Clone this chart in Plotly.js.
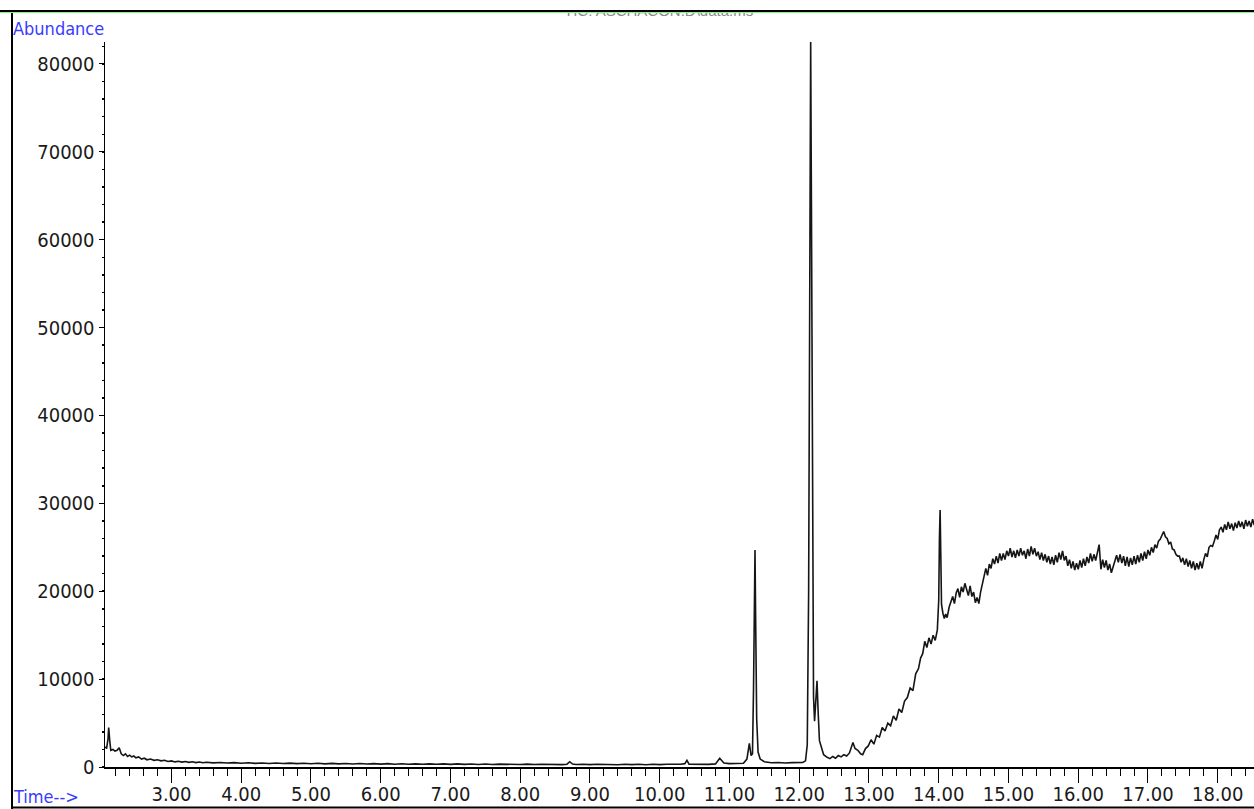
<!DOCTYPE html>
<html>
<head>
<meta charset="utf-8">
<script src="https://cdn.plot.ly/plotly-3.0.1.min.js"></script>
<style>
  html, body { margin: 0; padding: 0; background: #fff; }
  #chart { width: 1254px; height: 809px; }
</style>
</head>
<body>
<div id="chart"></div>
<script>
// Total ion chromatogram: retention time (min) vs abundance.

// Early baseline, 2.05 - 11.10 min
const timeEarly = [
  2.05, 2.07, 2.09, 2.10, 2.115, 2.13, 2.16, 2.19, 2.22, 2.25,
  2.28, 2.31, 2.34, 2.37, 2.40, 2.43, 2.46, 2.49, 2.53, 2.57,
  2.61, 2.65, 2.70, 2.75, 2.80, 2.85, 2.90, 2.95, 3.00, 3.05,
  3.10, 3.15, 3.20, 3.25, 3.30, 3.35, 3.40, 3.45, 3.50, 3.60,
  3.70, 3.80, 3.90, 4.00, 4.10, 4.20, 4.30, 4.40, 4.50, 4.60,
  4.70, 4.80, 4.90, 5.00, 5.10, 5.20, 5.30, 5.40, 5.50, 5.60,
  5.70, 5.80, 5.90, 6.00, 6.10, 6.20, 6.30, 6.40, 6.50, 6.60,
  6.70, 6.80, 6.90, 7.00, 7.10, 7.20, 7.30, 7.40, 7.50, 7.60,
  7.70, 7.80, 7.90, 8.00, 8.10, 8.20, 8.30, 8.40, 8.50, 8.60,
  8.67, 8.71, 8.75, 8.80, 8.90, 9.00, 9.10, 9.20, 9.30, 9.40,
  9.50, 9.60, 9.70, 9.80, 9.90, 10.00, 10.10, 10.20, 10.30, 10.36,
  10.39, 10.42, 10.50, 10.60, 10.70, 10.80, 10.86, 10.92, 11.00, 11.10
];
const abundEarly = [
  2300, 2100, 3200, 4500, 3000, 1900, 2000, 1800, 1900, 2200,
  1500, 1300, 1500, 1200, 1350, 1150, 1250, 1050, 1150, 900,
  1000, 820, 900, 760, 820, 700, 760, 620, 690, 580,
  650, 560, 620, 530, 590, 500, 560, 480, 540, 470,
  520, 450, 500, 430, 480, 410, 460, 400, 450, 390,
  440, 380, 430, 370, 420, 360, 410, 350, 400, 340,
  390, 340, 380, 330, 380, 320, 370, 320, 360, 310,
  360, 310, 350, 300, 350, 300, 340, 290, 340, 290,
  330, 290, 330, 280, 330, 280, 320, 280, 320, 270,
  320, 600, 340, 280, 320, 270, 310, 270, 310, 260,
  310, 270, 320, 260, 310, 270, 320, 280, 310, 380,
  750, 320, 290, 330, 300, 350, 1000, 450, 380, 400
];

// Resolved peaks at 11.37, 12.16 and 12.26 min
const timePeaks = [
  11.20, 11.25, 11.285, 11.31, 11.33, 11.345, 11.358, 11.366, 11.375, 11.39,
  11.41, 11.44, 11.50, 11.60, 11.70, 11.80, 11.90, 12.00, 12.05, 12.09,
  12.115, 12.135, 12.15, 12.164, 12.175, 12.19, 12.205, 12.22, 12.24, 12.255,
  12.27, 12.29, 12.32, 12.35
];
const abundPeaks = [
  420, 900, 2700, 1300, 1500, 9000, 21000, 24700, 17000, 5500,
  1700, 900, 600, 480, 520, 450, 500, 460, 520, 700,
  2500, 20000, 68000, 82500, 64000, 24000, 8000, 5200, 8600, 9800,
  6500, 3000, 2200, 1400
];

// Column bleed rise and the peak at 14.02 min
const timeRise = [
  12.40, 12.44, 12.48, 12.52, 12.56, 12.60, 12.64, 12.68, 12.72, 12.75,
  12.77, 12.80, 12.84, 12.88, 12.91, 12.95, 12.99, 13.03, 13.07, 13.11,
  13.15, 13.19, 13.23, 13.27, 13.31, 13.35, 13.39, 13.43, 13.47, 13.51,
  13.55, 13.59, 13.63, 13.67, 13.71, 13.74, 13.77, 13.80, 13.83, 13.86,
  13.89, 13.92, 13.95, 13.98, 14.00, 14.01, 14.02, 14.03, 14.04, 14.06,
  14.08, 14.10, 14.12
];
const abundRise = [
  1100, 950, 1200, 1000, 1300, 1150, 1400, 1250, 1600, 2200,
  2800, 2100, 1900, 1500, 1400, 2100, 2400, 3100, 2600, 3600,
  3400, 4500, 4100, 5000, 4700, 5800, 5300, 6600, 6200, 7500,
  7900, 9000, 8700, 10600, 11200, 12400, 12900, 14300, 13600, 14700,
  14000, 15000, 14400, 15600, 19000, 26000, 29250, 24000, 18500, 17500,
  16900, 17400, 17000
];

// Noisy plateau, 14.15 - 18.55 min
const timePlateau = [
  14.15, 14.175, 14.20, 14.225, 14.25, 14.275, 14.30, 14.325,
  14.35, 14.375, 14.40, 14.425, 14.45, 14.475, 14.50, 14.525,
  14.55, 14.575, 14.60, 14.625, 14.65, 14.675, 14.70, 14.725,
  14.75, 14.775, 14.80, 14.825, 14.85, 14.875, 14.90, 14.925,
  14.95, 14.975, 15.00, 15.025, 15.05, 15.075, 15.10, 15.125,
  15.15, 15.175, 15.20, 15.225, 15.25, 15.275, 15.30, 15.325,
  15.35, 15.375, 15.40, 15.425, 15.45, 15.475, 15.50, 15.525,
  15.55, 15.575, 15.60, 15.625, 15.65, 15.675, 15.70, 15.725,
  15.75, 15.775, 15.80, 15.825, 15.85, 15.875, 15.90, 15.925,
  15.95, 15.975, 16.00, 16.025, 16.05, 16.075, 16.10, 16.125,
  16.15, 16.175, 16.20, 16.225, 16.25, 16.275, 16.30, 16.325,
  16.35, 16.375, 16.40, 16.425, 16.45, 16.475, 16.50, 16.525,
  16.55, 16.575, 16.60, 16.625, 16.65, 16.675, 16.70, 16.725,
  16.75, 16.775, 16.80, 16.825, 16.85, 16.875, 16.90, 16.925,
  16.95, 16.975, 17.00, 17.025, 17.05, 17.075, 17.10, 17.125,
  17.15, 17.175, 17.20, 17.225, 17.25, 17.275, 17.30, 17.325,
  17.35, 17.375, 17.40, 17.425, 17.45, 17.475, 17.50, 17.525,
  17.55, 17.575, 17.60, 17.625, 17.65, 17.675, 17.70, 17.725,
  17.75, 17.775, 17.80, 17.825, 17.85, 17.875, 17.90, 17.925,
  17.95, 17.975, 18.00, 18.025, 18.05, 18.075, 18.10, 18.125,
  18.15, 18.175, 18.20, 18.225, 18.25, 18.275, 18.30, 18.325,
  18.35, 18.375, 18.40, 18.425, 18.45, 18.475, 18.50, 18.525,
  18.55
];
const abundPlateau = [
  18200, 18800, 19400, 18600, 19800, 20300, 19300, 20500,
  19900, 20900, 20100, 19500, 20600, 19400, 19900, 18700,
  19300, 18600, 19900, 20800, 21400, 22600, 21800, 23100,
  22600, 23700, 23100, 24000, 23200, 24300, 23500, 24300,
  23600, 24600, 24000, 24900, 23900, 24600, 23800, 24700,
  24000, 24900, 24100, 24600, 23700, 24800, 24000, 25100,
  24200, 24900, 24000, 24500, 23600, 24400, 23500, 24200,
  23300, 24000, 23100, 23900, 23000, 24100, 23300, 24400,
  23600, 24600, 23500, 24000, 22900, 23600, 22600, 23400,
  22400, 23200, 22500, 23500, 22700, 23700, 22900, 23900,
  23200, 24300, 23400, 24200, 23500, 24500, 25300, 22500,
  23600, 22700, 23500, 22400, 23100, 22100, 22800, 23300,
  24100, 23300, 24200, 23200, 24000, 22900, 23900, 22800,
  23800, 23000, 24000, 23100, 24100, 23300, 24300, 23500,
  24500, 23700, 24700, 24100, 25000, 24400, 25300, 24900,
  25700, 25900, 26400, 26800, 26200, 26000, 25400, 25600,
  24800, 24700, 24200, 24000, 24000, 23300, 23800, 23000,
  23700, 22800, 23500, 22600, 23400, 22400, 23200, 22500,
  23400, 22600, 23600, 24300, 23900, 25000, 25200, 25100,
  25700, 26400, 25900, 27000, 27300, 26700, 27600, 27000,
  27900, 27100, 27700, 26900, 27800, 27200, 28000, 27300,
  27900, 27100, 28100, 27400, 28000, 27300, 28200, 27500,
  27900
];

// Axis ticks
const timeTicks = [3, 4, 5, 6, 7, 8, 9, 10, 11, 12, 13, 14, 15, 16, 17, 18];
const timeTickLabels = ['3.00', '4.00', '5.00', '6.00', '7.00', '8.00', '9.00', '10.00',
  '11.00', '12.00', '13.00', '14.00', '15.00', '16.00', '17.00', '18.00'];
const abundTicks = [0, 10000, 20000, 30000, 40000, 50000, 60000, 70000, 80000];
const abundTickLabels = ['0', '10000', '20000', '30000', '40000', '50000', '60000', '70000', '80000'];

const chartTitle = 'TIC: ASCHACON.D\\data.ms';

// ---- layout geometry (pixels) ----
const W = 1254, H = 809;
const M = { l: 105, r: 0, t: 42, b: 42 };
const plotW = W - M.l - M.r, plotH = H - M.t - M.b;
const px = x => (x - M.l) / plotW;          // pixel -> paper x
const py = y => (H - M.b - y) / plotH;      // pixel -> paper y

const narrow = "'Liberation Sans Narrow', 'Arial Narrow', 'DejaVu Sans Condensed', sans-serif";
const blue = '#3a3aff';

const trace = {
  type: 'scatter',
  mode: 'lines',
  x: [].concat(timeEarly, timePeaks, timeRise, timePlateau),
  y: [].concat(abundEarly, abundPeaks, abundRise, abundPlateau),
  line: { color: '#151515', width: 1.6 },
  hoverinfo: 'x+y'
};

// Thin filled bands drawn as annotation boxes so they sit on top of the title text
function band(y0, h, color) {
  return {
    xref: 'paper', yref: 'paper', x: px(0), y: py(y0),
    xanchor: 'left', yanchor: 'top', showarrow: false,
    text: ' ', font: { size: 1 }, width: W, height: h,
    bgcolor: color, borderwidth: 0, borderpad: 0
  };
}

const layout = {
  width: W, height: H,
  margin: M,
  paper_bgcolor: '#fff', plot_bgcolor: '#fff',
  showlegend: false,
  xaxis: {
    range: [2.047, 18.52],
    tickmode: 'array', tickvals: timeTicks, ticktext: timeTickLabels,
    ticks: 'outside', ticklen: 14, tickwidth: 1, tickcolor: '#000',
    ticklabelstandoff: -6,
    minor: { tickmode: 'linear', tick0: 0, dtick: 0.2, ticks: 'outside', ticklen: 7, tickwidth: 1, tickcolor: '#000' },
    showline: true, linecolor: '#000', linewidth: 1.5,
    showgrid: false, zeroline: false,
    tickfont: { family: narrow, size: 20, color: '#1a1a1a' }
  },
  yaxis: {
    range: [0, 82500],
    tickmode: 'array', tickvals: abundTicks, ticktext: abundTickLabels,
    ticks: 'outside', ticklen: 5, tickwidth: 1, tickcolor: '#000',
    minor: { tickmode: 'linear', tick0: 0, dtick: 2000, ticks: 'outside', ticklen: 2, tickwidth: 1.5, tickcolor: '#000' },
    showline: true, linecolor: '#000', linewidth: 1.5,
    showgrid: false, zeroline: false,
    tickfont: { family: narrow, size: 20, color: '#1a1a1a' }
  },
  shapes: [
    // left and bottom frame
    { type: 'line', xref: 'paper', yref: 'paper', x0: px(12), x1: px(12), y0: py(10), y1: py(H), line: { color: '#000', width: 2 } },
    { type: 'line', xref: 'paper', yref: 'paper', x0: px(11), x1: px(W), y0: py(807.5), y1: py(807.5), line: { color: '#000', width: 2 } }
  ],
  annotations: [
    {
      xref: 'paper', yref: 'paper', x: px(658), y: py(10),
      xanchor: 'center', yanchor: 'middle', showarrow: false,
      text: chartTitle, font: { family: "'Liberation Sans', Arial, sans-serif", size: 15, color: '#8a8a8a' }
    },
    band(0, 10, '#ffffff'),
    band(10, 2.4, '#000000'),
    band(12.4, 1.2, '#86f586'),
    {
      xref: 'paper', yref: 'paper', x: px(11), y: py(28),
      xanchor: 'left', yanchor: 'middle', showarrow: false,
      text: 'Abundance', font: { family: narrow, size: 18, color: blue }
    },
    {
      xref: 'paper', yref: 'paper', x: px(11), y: py(796),
      xanchor: 'left', yanchor: 'middle', showarrow: false,
      text: 'Time-->', font: { family: narrow, size: 18, color: blue }
    }
  ]
};

Plotly.newPlot('chart', [trace], layout, { displayModeBar: false, staticPlot: true });
</script>
</body>
</html>
